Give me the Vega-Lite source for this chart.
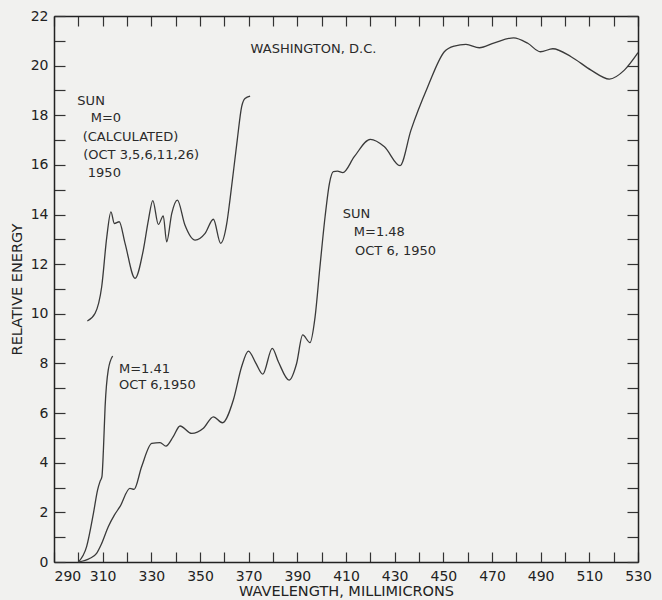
{
  "$schema": "https://vega.github.io/schema/vega-lite/v6.json",
  "width": 584,
  "height": 546,
  "autosize": {"type": "none"},
  "padding": {"left": 54, "top": 16, "right": 24, "bottom": 38},
  "background": "#f1f1ef",
  "config": {
    "view": {"stroke": null},
    "font": "DejaVu Sans",
    "axis": {
      "grid": false,
      "domainColor": "#222222",
      "domainWidth": 1.5,
      "tickColor": "#333333",
      "tickWidth": 1.2,
      "labelColor": "#222222",
      "titleColor": "#222222",
      "labelFont": "DejaVu Sans",
      "titleFont": "DejaVu Sans",
      "labelFontSize": 14,
      "titleFontSize": 14.5,
      "titleFontWeight": "normal"
    }
  },
  "datasets": {
    "curves": [
      {"series": "m0", "wavelength": 303.7, "energy": 9.71},
      {"series": "m0", "wavelength": 306.9, "energy": 10.02},
      {"series": "m0", "wavelength": 309.6, "energy": 11.09},
      {"series": "m0", "wavelength": 311.7, "energy": 13.1},
      {"series": "m0", "wavelength": 313.4, "energy": 14.11},
      {"series": "m0", "wavelength": 314.8, "energy": 13.64},
      {"series": "m0", "wavelength": 316.8, "energy": 13.71},
      {"series": "m0", "wavelength": 319.2, "energy": 12.84},
      {"series": "m0", "wavelength": 323.3, "energy": 11.43},
      {"series": "m0", "wavelength": 326.7, "energy": 12.57},
      {"series": "m0", "wavelength": 328.8, "energy": 13.78},
      {"series": "m0", "wavelength": 330.6, "energy": 14.56},
      {"series": "m0", "wavelength": 332.9, "energy": 13.6},
      {"series": "m0", "wavelength": 334.9, "energy": 13.95},
      {"series": "m0", "wavelength": 336.3, "energy": 12.9},
      {"series": "m0", "wavelength": 338.4, "energy": 14.05},
      {"series": "m0", "wavelength": 340.7, "energy": 14.58},
      {"series": "m0", "wavelength": 343.8, "energy": 13.58},
      {"series": "m0", "wavelength": 348.0, "energy": 12.97},
      {"series": "m0", "wavelength": 352.1, "energy": 13.24},
      {"series": "m0", "wavelength": 355.5, "energy": 13.81},
      {"series": "m0", "wavelength": 358.5, "energy": 12.84},
      {"series": "m0", "wavelength": 361.0, "energy": 13.64},
      {"series": "m0", "wavelength": 362.3, "energy": 14.58},
      {"series": "m0", "wavelength": 365.3, "energy": 17.0},
      {"series": "m0", "wavelength": 367.1, "energy": 18.34},
      {"series": "m0", "wavelength": 368.5, "energy": 18.68},
      {"series": "m0", "wavelength": 370.6, "energy": 18.77},
      {"series": "m141", "wavelength": 300.0, "energy": 0.0},
      {"series": "m141", "wavelength": 303.4, "energy": 0.62},
      {"series": "m141", "wavelength": 306.2, "energy": 1.96},
      {"series": "m141", "wavelength": 307.9, "energy": 2.9},
      {"series": "m141", "wavelength": 308.9, "energy": 3.24},
      {"series": "m141", "wavelength": 309.7, "energy": 3.44},
      {"series": "m141", "wavelength": 310.3, "energy": 4.5},
      {"series": "m141", "wavelength": 311.0, "energy": 6.26},
      {"series": "m141", "wavelength": 312.3, "energy": 7.74},
      {"series": "m141", "wavelength": 314.1, "energy": 8.3},
      {"series": "m148", "wavelength": 300.0, "energy": 0.0},
      {"series": "m148", "wavelength": 304.8, "energy": 0.15},
      {"series": "m148", "wavelength": 307.5, "energy": 0.35},
      {"series": "m148", "wavelength": 309.6, "energy": 0.75},
      {"series": "m148", "wavelength": 312.3, "energy": 1.42},
      {"series": "m148", "wavelength": 314.8, "energy": 1.89},
      {"series": "m148", "wavelength": 317.1, "energy": 2.23},
      {"series": "m148", "wavelength": 321.2, "energy": 2.97},
      {"series": "m148", "wavelength": 322.9, "energy": 2.93},
      {"series": "m148", "wavelength": 326.0, "energy": 3.84},
      {"series": "m148", "wavelength": 330.2, "energy": 4.78},
      {"series": "m148", "wavelength": 333.6, "energy": 4.81},
      {"series": "m148", "wavelength": 336.0, "energy": 4.67},
      {"series": "m148", "wavelength": 339.0, "energy": 5.05},
      {"series": "m148", "wavelength": 341.8, "energy": 5.48},
      {"series": "m148", "wavelength": 346.6, "energy": 5.18},
      {"series": "m148", "wavelength": 351.4, "energy": 5.39},
      {"series": "m148", "wavelength": 355.5, "energy": 5.85},
      {"series": "m148", "wavelength": 359.2, "energy": 5.61},
      {"series": "m148", "wavelength": 363.7, "energy": 6.53},
      {"series": "m148", "wavelength": 367.1, "energy": 7.87},
      {"series": "m148", "wavelength": 369.9, "energy": 8.5},
      {"series": "m148", "wavelength": 373.0, "energy": 8.0},
      {"series": "m148", "wavelength": 375.8, "energy": 7.57},
      {"series": "m148", "wavelength": 379.7, "energy": 8.61},
      {"series": "m148", "wavelength": 382.2, "energy": 8.07},
      {"series": "m148", "wavelength": 386.6, "energy": 7.33},
      {"series": "m148", "wavelength": 389.7, "energy": 8.0},
      {"series": "m148", "wavelength": 392.2, "energy": 9.15},
      {"series": "m148", "wavelength": 395.2, "energy": 8.84},
      {"series": "m148", "wavelength": 397.3, "energy": 9.88},
      {"series": "m148", "wavelength": 399.3, "energy": 11.9},
      {"series": "m148", "wavelength": 401.4, "energy": 13.91},
      {"series": "m148", "wavelength": 403.2, "energy": 15.26},
      {"series": "m148", "wavelength": 404.8, "energy": 15.73},
      {"series": "m148", "wavelength": 406.5, "energy": 15.75},
      {"series": "m148", "wavelength": 408.7, "energy": 15.69},
      {"series": "m148", "wavelength": 413.4, "energy": 16.33},
      {"series": "m148", "wavelength": 420.0, "energy": 17.03},
      {"series": "m148", "wavelength": 425.8, "energy": 16.73},
      {"series": "m148", "wavelength": 432.2, "energy": 15.97},
      {"series": "m148", "wavelength": 436.7, "energy": 17.4},
      {"series": "m148", "wavelength": 443.6, "energy": 19.15},
      {"series": "m148", "wavelength": 450.4, "energy": 20.56},
      {"series": "m148", "wavelength": 454.5, "energy": 20.79},
      {"series": "m148", "wavelength": 459.3, "energy": 20.86},
      {"series": "m148", "wavelength": 464.8, "energy": 20.72},
      {"series": "m148", "wavelength": 471.0, "energy": 20.92},
      {"series": "m148", "wavelength": 478.9, "energy": 21.12},
      {"series": "m148", "wavelength": 484.7, "energy": 20.9},
      {"series": "m148", "wavelength": 489.9, "energy": 20.56},
      {"series": "m148", "wavelength": 495.0, "energy": 20.68},
      {"series": "m148", "wavelength": 502.5, "energy": 20.36},
      {"series": "m148", "wavelength": 510.7, "energy": 19.82},
      {"series": "m148", "wavelength": 518.2, "energy": 19.46},
      {"series": "m148", "wavelength": 524.4, "energy": 19.82},
      {"series": "m148", "wavelength": 530.0, "energy": 20.52}
    ],
    "labels": [
      {"wavelength": 370.8, "energy": 20.5, "text": "WASHINGTON, D.C."},
      {"wavelength": 299.6, "energy": 18.41, "text": "SUN"},
      {"wavelength": 305.1, "energy": 17.74, "text": "M=0"},
      {"wavelength": 301.8, "energy": 16.96, "text": "(CALCULATED)"},
      {"wavelength": 302.0, "energy": 16.24, "text": "(OCT 3,5,6,11,26)"},
      {"wavelength": 303.9, "energy": 15.52, "text": "1950"},
      {"wavelength": 408.7, "energy": 13.85, "text": "SUN"},
      {"wavelength": 413.2, "energy": 13.13, "text": "M=1.48"},
      {"wavelength": 413.7, "energy": 12.37, "text": "OCT 6, 1950"},
      {"wavelength": 316.7, "energy": 7.62, "text": "M=1.41"},
      {"wavelength": 316.7, "energy": 6.96, "text": "OCT 6,1950"}
    ]
  },
  "resolve": {
    "scale": {"x": "shared", "y": "shared"},
    "axis": {"x": "independent", "y": "independent"}
  },
  "layer": [
    {
      "data": {"name": "curves"},
      "mark": {"type": "line", "interpolate": "monotone", "stroke": "#3a3a3a", "strokeWidth": 1.3},
      "encoding": {
        "detail": {"field": "series", "type": "nominal"},
        "x": {
          "field": "wavelength",
          "type": "quantitative",
          "scale": {"domain": [290, 530], "nice": false, "zero": false},
          "axis": {
            "orient": "bottom",
            "title": "WAVELENGTH, MILLIMICRONS",
            "titlePadding": 1,
            "values": [290, 300, 310, 320, 330, 340, 350, 360, 370, 380, 390, 400, 410, 420, 430, 440, 450, 460, 470, 480, 490, 500, 510, 520, 530],
            "labelExpr": "(datum.value - 290) % 20 == 0 ? datum.label : ''",
            "labelAlign": {"condition": {"test": "datum.value == 290", "value": "left"}, "value": "center"},
            "tickSize": -10,
            "labelPadding": 17
          }
        },
        "y": {
          "field": "energy",
          "type": "quantitative",
          "scale": {"domain": [0, 22], "nice": false},
          "axis": {
            "orient": "left",
            "title": "RELATIVE ENERGY",
            "titlePadding": 6,
            "values": [0, 1, 2, 3, 4, 5, 6, 7, 8, 9, 10, 11, 12, 13, 14, 15, 16, 17, 18, 19, 20, 21, 22],
            "labelExpr": "datum.value % 2 == 0 ? datum.label : ''",
            "tickSize": -11,
            "labelPadding": 17
          }
        }
      }
    },
    {
      "data": {"name": "labels"},
      "mark": {"type": "text", "align": "left", "baseline": "alphabetic", "font": "DejaVu Sans", "fontSize": 13, "color": "#2a2a2a"},
      "encoding": {
        "text": {"field": "text", "type": "nominal"},
        "x": {
          "field": "wavelength",
          "type": "quantitative",
          "axis": {
            "orient": "top",
            "title": null,
            "labels": false,
            "values": [290, 300, 310, 320, 330, 340, 350, 360, 370, 380, 390, 400, 410, 420, 430, 440, 450, 460, 470, 480, 490, 500, 510, 520, 530],
            "tickSize": -10
          }
        },
        "y": {
          "field": "energy",
          "type": "quantitative",
          "axis": {
            "orient": "right",
            "title": null,
            "labels": false,
            "values": [0, 1, 2, 3, 4, 5, 6, 7, 8, 9, 10, 11, 12, 13, 14, 15, 16, 17, 18, 19, 20, 21, 22],
            "tickSize": -11
          }
        }
      }
    }
  ]
}
